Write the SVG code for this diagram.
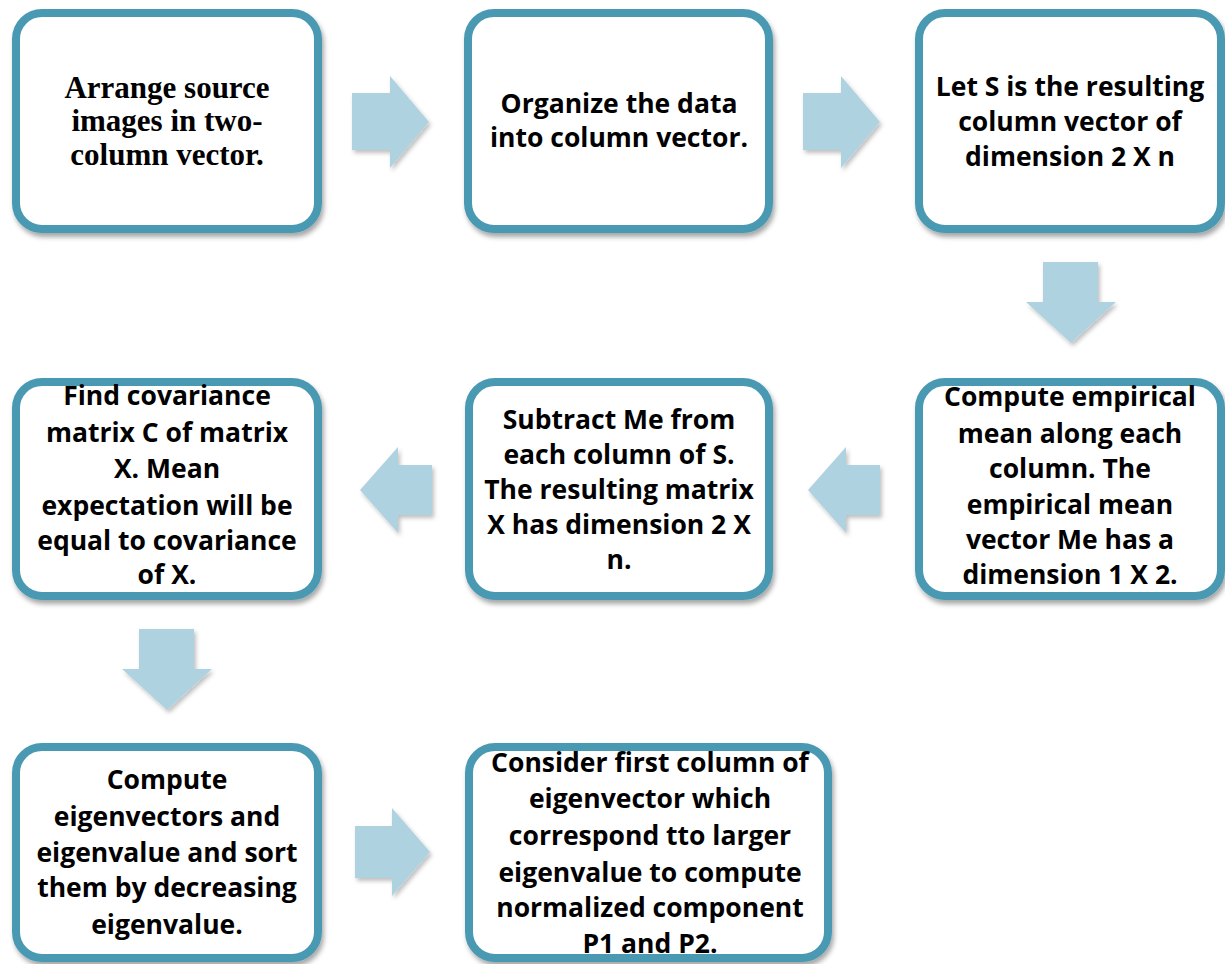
<svg xmlns="http://www.w3.org/2000/svg" width="1225" height="964" viewBox="0 0 1225 964">
<style>
.box{fill:#ffffff;stroke:#4899b3;stroke-width:8;filter:url(#sh)}
.arr{fill:#aed2df;filter:url(#sh2)}
.t{font-family:"Open Sans",Lato,"Liberation Sans",sans-serif;font-weight:bold;font-size:26.5px;fill:#000;text-anchor:middle}
.s{font-family:"Liberation Serif","DejaVu Serif",serif;font-weight:bold;font-size:31px;fill:#000;text-anchor:middle}
</style>
<defs>
<filter id="sh" x="-10%" y="-10%" width="125%" height="125%">
<feDropShadow dx="2" dy="4" stdDeviation="2.5" flood-color="#000" flood-opacity="0.35"/>
</filter>
<filter id="sh2" x="-20%" y="-20%" width="150%" height="150%">
<feDropShadow dx="2" dy="3" stdDeviation="2" flood-color="#000" flood-opacity="0.25"/>
</filter>
</defs>
<rect width="1225" height="964" fill="#ffffff"/>
<g id="connectors">
<polygon class="arr" points="352,93 390,93 390,76 429,122 390,168 390,150 352,150"/>
<polygon class="arr" points="803,93 841,93 841,76 880,122 841,168 841,150 803,150"/>
<polygon class="arr" points="1043,262 1098,262 1098,302 1116,302 1071,343 1026,302 1043,302"/>
<polygon class="arr" points="880,465 846,465 846,447 808,490 846,533 846,515 880,515"/>
<polygon class="arr" points="432,465 398,465 398,447 360,490 398,533 398,515 432,515"/>
<polygon class="arr" points="139,629 194,629 194,669 212,669 167,710 122,669 139,669"/>
<polygon class="arr" points="355,826 392,826 392,808 430,852 392,896 392,878 355,878"/>
</g>
<g id="n1">
<rect class="box" x="16" y="13" width="302" height="216" rx="26"/>
<text class="s" x="167" y="98">Arrange source</text>
<text class="s" x="167" y="131">images in two-</text>
<text class="s" x="167" y="165">column vector.</text>
</g>
<g id="n2">
<rect class="box" x="468" y="13" width="301" height="216" rx="26"/>
<text class="t" x="619" y="113">Organize the data</text>
<text class="t" x="619" y="147">into column vector.</text>
</g>
<g id="n3">
<rect class="box" x="919" y="13" width="302" height="216" rx="26"/>
<text class="t" x="1070" y="96">Let S is the resulting</text>
<text class="t" x="1070" y="131">column vector of</text>
<text class="t" x="1070" y="166">dimension 2 X n</text>
</g>
<g id="n4">
<rect class="box" x="919" y="382" width="302" height="214" rx="26"/>
<text class="t" x="1070" y="406">Compute empirical</text>
<text class="t" x="1070" y="443">mean along each</text>
<text class="t" x="1070" y="478">column. The</text>
<text class="t" x="1070" y="514">empirical mean</text>
<text class="t" x="1070" y="549">vector Me has a</text>
<text class="t" x="1070" y="584">dimension 1 X 2.</text>
</g>
<g id="n5">
<rect class="box" x="469" y="382" width="300" height="214" rx="26"/>
<text class="t" x="619" y="429">Subtract Me from</text>
<text class="t" x="619" y="464">each column of S.</text>
<text class="t" x="619" y="499">The resulting matrix</text>
<text class="t" x="619" y="534">X has dimension 2 X</text>
<text class="t" x="619" y="569">n.</text>
</g>
<g id="n6">
<rect class="box" x="16" y="382" width="302" height="214" rx="26"/>
<text class="t" x="167" y="405">Find covariance</text>
<text class="t" x="167" y="442">matrix C of matrix</text>
<text class="t" x="167" y="478">X. Mean</text>
<text class="t" x="167" y="515">expectation will be</text>
<text class="t" x="167" y="550">equal to covariance</text>
<text class="t" x="167" y="584">of X.</text>
</g>
<g id="n7">
<rect class="box" x="16" y="747" width="302" height="211" rx="26"/>
<text class="t" x="167" y="789">Compute</text>
<text class="t" x="167" y="826">eigenvectors and</text>
<text class="t" x="167" y="862">eigenvalue and sort</text>
<text class="t" x="167" y="897">them by decreasing</text>
<text class="t" x="167" y="934">eigenvalue.</text>
</g>
<g id="n8">
<rect class="box" x="469" y="747" width="359" height="211" rx="26"/>
<text class="t" x="650" y="772">Consider first column of</text>
<text class="t" x="650" y="808">eigenvector which</text>
<text class="t" x="650" y="845">correspond tto larger</text>
<text class="t" x="650" y="882">eigenvalue to compute</text>
<text class="t" x="650" y="917">normalized component</text>
<text class="t" x="650" y="953">P1 and P2.</text>
</g>
</svg>
